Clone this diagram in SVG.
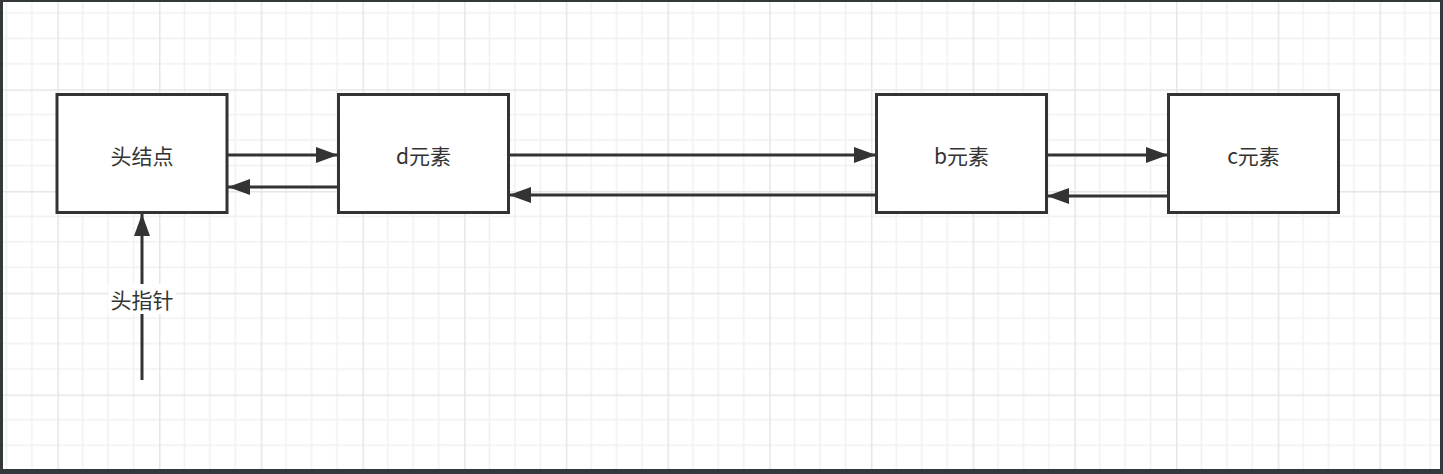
<svg xmlns="http://www.w3.org/2000/svg" width="1443" height="474" viewBox="0 0 1443 474">
  <defs>
    <style>
      .node rect { fill: #ffffff; stroke: #333333; stroke-width: 3; }
      .node text, .label { font-family: "Noto Sans CJK SC", "Liberation Sans", sans-serif; font-size: 21px; fill: #333333; text-anchor: middle; }
      .edge { fill: none; stroke: #333333; stroke-width: 3; }
    </style>
    <marker id="arrow" viewBox="0 0 22 16" refX="22" refY="8" markerWidth="22" markerHeight="16" markerUnits="userSpaceOnUse" orient="auto">
      <path d="M0,0 L22,8 L0,16 Z" fill="#333333"/>
    </marker>
    <pattern id="grid" patternUnits="userSpaceOnUse" x="-44.4" y="-12.4" width="101.7" height="101.7">
      <rect width="101.7" height="101.7" fill="#ffffff"/>
      <path d="M25.4,0 V101.7 M50.85,0 V101.7 M76.3,0 V101.7 M0,25.4 H101.7 M0,50.85 H101.7 M0,76.3 H101.7" stroke="#f1f1f1" stroke-width="1.5"/>
      <path d="M0.75,0 V101.7 M0,0.75 H101.7" stroke="#e6e6e6" stroke-width="1.5"/>
    </pattern>
  </defs>
  <rect x="0" y="0" width="1443" height="474" fill="#33383b"/>
  <rect x="3" y="2" width="1437" height="467" fill="url(#grid)"/>

  <g id="connectors">
    <line class="edge" x1="228" y1="155" x2="338" y2="155" marker-end="url(#arrow)"/>
    <line class="edge" x1="338" y1="187" x2="228" y2="187" marker-end="url(#arrow)"/>
    <line class="edge" x1="509" y1="155" x2="876" y2="155" marker-end="url(#arrow)"/>
    <line class="edge" x1="876" y1="195" x2="509" y2="195" marker-end="url(#arrow)"/>
    <line class="edge" x1="1047" y1="155" x2="1168" y2="155" marker-end="url(#arrow)"/>
    <line class="edge" x1="1168" y1="196" x2="1047" y2="196" marker-end="url(#arrow)"/>
    <g id="head-pointer">
      <line class="edge" x1="142" y1="380" x2="142" y2="214" marker-end="url(#arrow)"/>
      <rect x="108" y="284" width="68" height="30" fill="#ffffff"/>
      <text class="label" x="142" y="307.5">头指针</text>
    </g>
  </g>

  <g id="node-head" class="node">
    <rect x="57" y="94.5" width="170" height="118"/>
    <text x="142" y="163.5">头结点</text>
  </g>
  <g id="node-d" class="node">
    <rect x="338.5" y="94.5" width="170" height="118"/>
    <text x="423.5" y="163.5">d元素</text>
  </g>
  <g id="node-b" class="node">
    <rect x="876.5" y="94.5" width="170" height="118"/>
    <text x="961.5" y="163.5">b元素</text>
  </g>
  <g id="node-c" class="node">
    <rect x="1168.5" y="94.5" width="170" height="118"/>
    <text x="1253.5" y="163.5">c元素</text>
  </g>
</svg>
